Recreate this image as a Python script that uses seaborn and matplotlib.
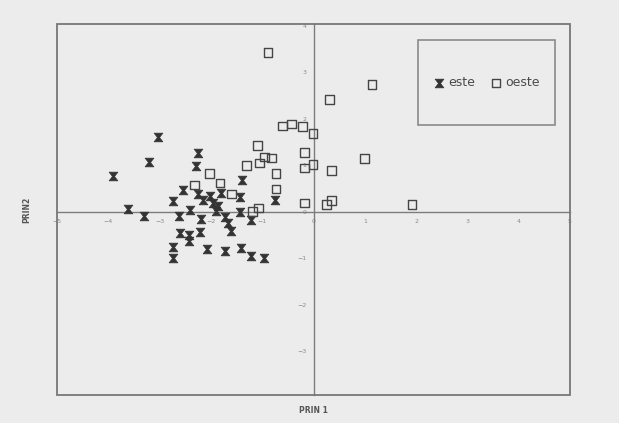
import numpy as np
import pandas as pd
import matplotlib
matplotlib.use("Agg")
import matplotlib.pyplot as plt
import seaborn as sns
from matplotlib.path import Path
from matplotlib.patches import Rectangle

# ---- data ----
este_x = [-3.04, -2.26, -2.30, -3.20, -3.90, -1.40, -0.76, -3.61, -3.31, -2.55,
          -2.74, -2.26, -2.16, -2.02, -1.80, -1.96, -1.86, -2.40, -2.63, -2.19,
          -1.90, -1.73, -1.66, -1.60, -1.44, -1.44, -1.21, -2.61, -2.42, -2.21,
          -2.42, -2.73, -2.74, -2.08, -1.73, -1.41, -1.21, -0.97]
este_y = [1.62, 1.27, 0.99, 1.07, 0.77, 0.69, 0.25, 0.06, -0.08, 0.46,
          0.23, 0.39, 0.25, 0.35, 0.40, 0.19, 0.12, 0.05, -0.10, -0.15,
          0.02, -0.12, -0.23, -0.41, 0.32, -0.01, -0.18, -0.45, -0.49, -0.44,
          -0.62, -0.75, -1.00, -0.80, -0.84, -0.77, -0.95, -0.99]
oeste_x = [-0.89, 1.14, 0.31, -0.60, -0.43, -0.21, -0.01, -1.09, -0.18, 0.99,
           -0.96, -0.82, -1.05, -1.31, -0.18, -0.01, 0.35, -0.73, -2.03, -1.82,
           -2.32, -0.73, -1.60, -0.18, 0.25, 0.35, 1.92, -1.07, -1.19]
oeste_y = [3.43, 2.74, 2.41, 1.85, 1.89, 1.84, 1.68, 1.43, 1.27, 1.15,
           1.18, 1.16, 1.05, 1.00, 0.94, 1.02, 0.89, 0.82, 0.82, 0.62,
           0.58, 0.49, 0.38, 0.19, 0.16, 0.24, 0.16, 0.08, 0.01]
x_ticks = [-5, -4, -3, -2, -1, 0, 1, 2, 3, 4, 5]
y_ticks = [-3, -2, -1, 0, 1, 2, 3, 4]
group_names = ["este", "oeste"]
x_label = "PRIN 1"
y_label = "PRIN2"

df = pd.DataFrame({
    "PRIN1": este_x + oeste_x,
    "PRIN2": este_y + oeste_y,
    "grupo": [group_names[0]] * len(este_x) + [group_names[1]] * len(oeste_x),
})

sns.set_style("white")
plt.rcParams["font.family"] = ["DejaVu Sans"]

bg = "#ececec"
fig = plt.figure(figsize=(6.19, 4.23), dpi=100, facecolor=bg)
ax = fig.add_axes([57 / 619, 1 - 395 / 423, 513 / 619, 371 / 423])
ax.set_facecolor(bg)

hourglass = Path(
    [(-1, 1), (1, 1), (0.22, 0), (1, -1), (-1, -1), (-0.22, 0), (-1, 1)],
    [Path.MOVETO] + [Path.LINETO] * 5 + [Path.CLOSEPOLY],
)

sns.scatterplot(data=df[df["grupo"] == "este"], x="PRIN1", y="PRIN2",
                marker=hourglass, s=38, color="#333333", edgecolor="#333333",
                linewidth=0.6, label="este", ax=ax, zorder=3, legend=False)
sns.scatterplot(data=df[df["grupo"] == "oeste"], x="PRIN1", y="PRIN2",
                marker="s", s=38, facecolor="none", edgecolor="#454545",
                linewidth=1.0, label="oeste", ax=ax, zorder=3, legend=False)

ax.set_xlim(-5, 5)
ax.set_ylim(-3.94, 4.04)

# axes crossing at the origin
ax.spines["left"].set_position(("data", 0))
ax.spines["bottom"].set_position(("data", 0))
for s in ["left", "bottom"]:
    ax.spines[s].set_color("#7c7c7c")
    ax.spines[s].set_linewidth(1.0)
for s in ["top", "right"]:
    ax.spines[s].set_visible(False)
ax.add_patch(Rectangle((0, 0), 1, 1, transform=ax.transAxes, fill=False,
                       ec="#777777", lw=1.3, clip_on=False, zorder=4))

ax.set_xticks(x_ticks)
ax.set_yticks(y_ticks)
ax.tick_params(length=2, width=0.8, color="#8a8a8a", labelsize=4.5,
               labelcolor="#8a8a8a", pad=3, direction="out")
ax.set_xlabel("")
ax.set_ylabel("")

ax.text(0.5, -0.042, x_label, transform=ax.transAxes, ha="center", va="center",
        fontsize=5.5, fontweight="bold", color="#555555")
ax.text(-0.058, 0.5, y_label, transform=ax.transAxes, ha="center", va="center",
        rotation=90, fontsize=5.5, fontweight="bold", color="#555555")

# legend box
ax.add_patch(Rectangle((0.704, 0.728), 0.267, 0.229, transform=ax.transAxes,
                       fill=False, ec="#8a8a8a", lw=1.2, zorder=4))
handles, labels = ax.get_legend_handles_labels()
ax.legend(handles, labels, ncol=2, loc="center", bbox_to_anchor=(0.8375, 0.842),
          frameon=False, fontsize=9, handletextpad=0.3, columnspacing=1.2,
          handlelength=0.9, labelcolor="#4a4a4a")

fig.savefig("out.png", dpi=100, facecolor=bg)
